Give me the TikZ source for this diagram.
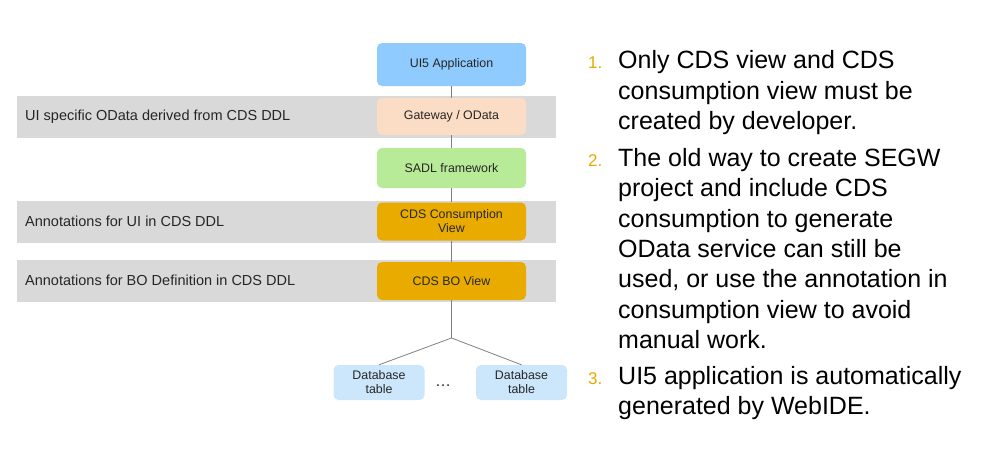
\documentclass[tikz,border=0pt]{standalone}
\usepackage{fontspec}
\setmainfont{Liberation Sans}
\definecolor{bandgray}{HTML}{D9D9D9}
\definecolor{uiblue}{HTML}{8FCBFF}
\definecolor{gwpeach}{HTML}{FBDCC4}
\definecolor{sadlgreen}{HTML}{B8EB98}
\definecolor{cdsorange}{HTML}{E9AB00}
\definecolor{dbblue}{HTML}{CCE7FB}
\definecolor{numorange}{HTML}{E8A800}
\definecolor{linegray}{HTML}{808080}
\begin{document}
\begin{tikzpicture}[x=1pt,y=-1pt,
  band/.style={fill=bandgray,draw=none,minimum width=539pt,minimum height=42pt,inner sep=0pt},
  lbl/.style={anchor=west,font=\fontsize{14.5}{17}\selectfont,text=black!85,inner sep=0pt},
  boxst/.style={rounded corners=5pt,draw=none,minimum width=149pt,align=center,
    font=\fontsize{12.4}{15}\selectfont,text=black!85,inner sep=0pt},
  dbst/.style={rounded corners=5pt,draw=none,fill=dbblue,minimum width=91pt,minimum height=35pt,align=center,
    font=\fontsize{12.4}{15}\selectfont,text=black!85,inner sep=0pt},
  conn/.style={draw=linegray,line width=0.8pt},
  num/.style={anchor=base west,font=\fontsize{17}{20}\selectfont,text=numorange,inner sep=0pt},
  item/.style={anchor=north west,align=left,font=\fontsize{25}{30.4}\selectfont,text=black,inner sep=0pt}
]
\useasboundingbox (0,0) rectangle (996,455);
% bands
\node[band] (b1) at (286.5,117) {};
\node[band] (b2) at (286.5,221.5) {};
\node[band] (b3) at (286.5,280.5) {};
\node[lbl] (l1) at (25,117) {UI specific OData derived from CDS DDL};
\node[lbl] (l2) at (25,221.5) {Annotations for UI in CDS DDL};
\node[lbl] (l3) at (25,280.5) {Annotations for BO Definition in CDS DDL};
% boxes
\node[boxst,fill=uiblue,minimum height=43pt] (ui5) at (451.5,64.5) {UI5 Application};
\node[boxst,fill=gwpeach,minimum height=37pt] (gw) at (451.5,116.5) {Gateway / OData};
\node[boxst,fill=sadlgreen,minimum height=40pt] (sadl) at (451.5,168) {SADL framework};
\node[boxst,fill=cdsorange,minimum height=38pt] (cc) at (451.5,221.5) {CDS Consumption\\[-1pt]View};
\node[boxst,fill=cdsorange,minimum height=38pt] (bo) at (451.5,281) {CDS BO View};
\node[dbst] (db1) at (379,382.5) {Database\\[-1pt]table};
\node[dbst] (db2) at (521.5,382.5) {Database\\[-1pt]table};
\node[anchor=base,font=\fontsize{16}{18}\selectfont,text=black!85,inner sep=0pt] (dots) at (443,386) {…};
\coordinate (jn) at (451.5,338);
% connectors
\draw[conn] (ui5) -- (gw);
\draw[conn] (gw) -- (sadl);
\draw[conn] (sadl) -- (cc);
\draw[conn] (cc) -- (bo);
\draw[conn] (bo) -- (jn);
\draw[conn] (jn) -- (db1.north);
\draw[conn] (jn) -- (db2.north);
% list
\node[item] (i1) at (618,50.5) {Only CDS view and CDS\\consumption view must be\\created by developer.};
\node[item] (i2) at (618,148) {The old way to create SEGW\\project and include CDS\\consumption to generate\\OData service can still be\\used, or use the annotation in\\consumption view to avoid\\manual work.};
\node[item] (i3) at (618,366) {UI5 application is automatically\\generated by WebIDE.};
\node[num] (n1) at ([xshift=-30pt,yshift=-18.3pt]i1.north west) {1.};
\node[num] (n2) at ([xshift=-30pt,yshift=-18.3pt]i2.north west) {2.};
\node[num] (n3) at ([xshift=-30pt,yshift=-18.3pt]i3.north west) {3.};
\end{tikzpicture}
\end{document}
